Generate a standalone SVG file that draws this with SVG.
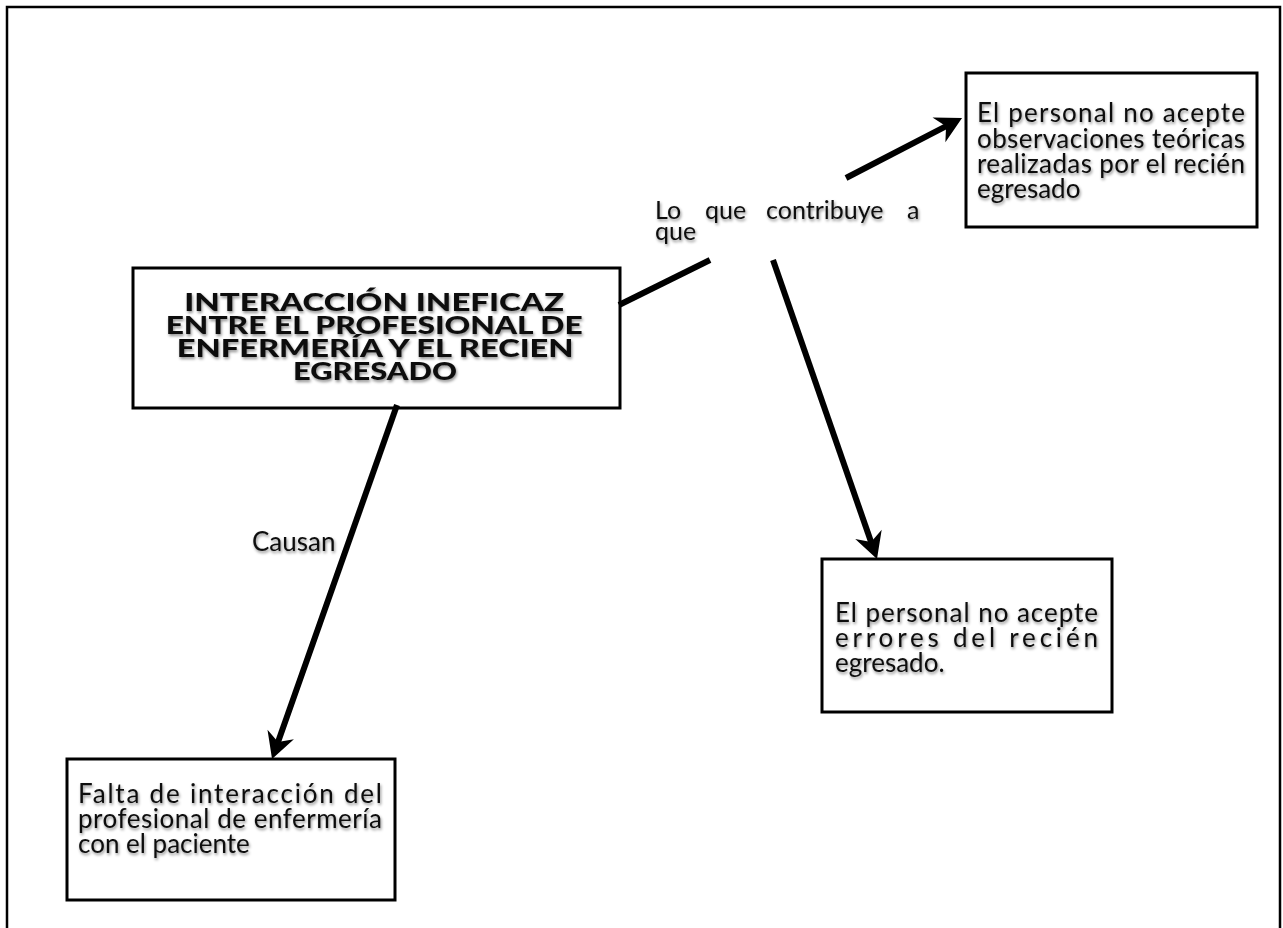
<svg xmlns="http://www.w3.org/2000/svg" width="1283" height="928" viewBox="0 0 1283 928">
  <style>
    .box { fill: #ffffff; stroke: #000000; stroke-width: 3; }
    .t { font-family: Lato, "Liberation Sans", sans-serif; font-size: 26px; fill: #111111; filter: url(#shadow); }
    .lbl { font-family: Lato, "Liberation Sans", sans-serif; font-size: 25px; fill: #111111; filter: url(#shadow); }
    .title { font-family: Lato, "Liberation Sans", sans-serif; font-size: 24px; font-weight: 900; fill: #111111; filter: url(#shadow); }
    .conn { fill: none; stroke: #000000; stroke-width: 6; stroke-linecap: butt; }
  </style>
  <defs>
    <filter id="shadow" x="-10%" y="-30%" width="120%" height="160%">
      <feDropShadow dx="1" dy="2" stdDeviation="1.4" flood-color="#000000" flood-opacity="0.45"/>
    </filter>
    <marker id="arrow" viewBox="-14 -16 30 32" markerWidth="30" markerHeight="32" refX="0" refY="0" markerUnits="userSpaceOnUse" orient="auto">
      <path d="M14,0 L-12,-14 L-4,0 L-12,14 Z" fill="#000000"/>
    </marker>
  </defs>
  <rect width="1283" height="928" fill="#ffffff"/>
  <path d="M7,940 L7,7 L1280,7 L1280,940" fill="none" stroke="#000000" stroke-width="2.5"/>

  <g id="node-main">
    <rect class="box" x="133" y="268" width="487" height="140"/>
    <text class="title" text-anchor="middle">
      <tspan x="377" y="311" textLength="380" lengthAdjust="spacingAndGlyphs">INTERACCIÓN INEFICAZ</tspan>
      <tspan x="377" y="334" textLength="417" lengthAdjust="spacingAndGlyphs">ENTRE EL PROFESIONAL DE</tspan>
      <tspan x="378" y="357" textLength="397" lengthAdjust="spacingAndGlyphs">ENFERMERÍA Y EL RECIEN</tspan>
      <tspan x="375" y="380" textLength="164" lengthAdjust="spacingAndGlyphs">EGRESADO</tspan>
    </text>
  </g>

  <g id="node-observaciones">
    <rect class="box" x="966" y="73" width="291" height="154"/>
    <text class="t">
      <tspan x="977" y="122" textLength="268" lengthAdjust="spacing">El personal no acepte</tspan>
      <tspan x="977" y="148" textLength="268" lengthAdjust="spacing">observaciones teóricas</tspan>
      <tspan x="977" y="173" textLength="268" lengthAdjust="spacing">realizadas por el recién</tspan>
      <tspan x="977" y="198">egresado</tspan>
    </text>
  </g>

  <g id="node-errores">
    <rect class="box" x="822" y="559" width="290" height="153"/>
    <text class="t">
      <tspan x="835" y="622" textLength="263" lengthAdjust="spacing">El personal no acepte</tspan>
      <tspan x="835" y="647" textLength="263" lengthAdjust="spacing">errores del recién</tspan>
      <tspan x="835" y="672">egresado.</tspan>
    </text>
  </g>

  <g id="node-falta">
    <rect class="box" x="67" y="759" width="328" height="141"/>
    <text class="t">
      <tspan x="78" y="803" textLength="304" lengthAdjust="spacing">Falta de interacción del</tspan>
      <tspan x="78" y="828" textLength="304" lengthAdjust="spacing">profesional de enfermería</tspan>
      <tspan x="78" y="853">con el paciente</tspan>
    </text>
  </g>

  <g id="connectors">
    <line class="conn" x1="619" y1="305" x2="710" y2="260"/>
    <line class="conn" x1="846" y1="178" x2="949.6" y2="124.4" marker-end="url(#arrow)"/>
    <text class="lbl">
      <tspan x="655" y="219">Lo</tspan><tspan x="705" y="219">que</tspan><tspan x="766" y="219">contribuye</tspan><tspan x="907" y="219">a</tspan>
      <tspan x="655" y="240">que</tspan>
    </text>
    <line class="conn" x1="773" y1="260" x2="872.4" y2="545.8" marker-end="url(#arrow)"/>
    <line class="conn" x1="397" y1="405" x2="276.7" y2="745.8" marker-end="url(#arrow)"/>
    <text class="t" x="252" y="551">Causan</text>
  </g>
</svg>
